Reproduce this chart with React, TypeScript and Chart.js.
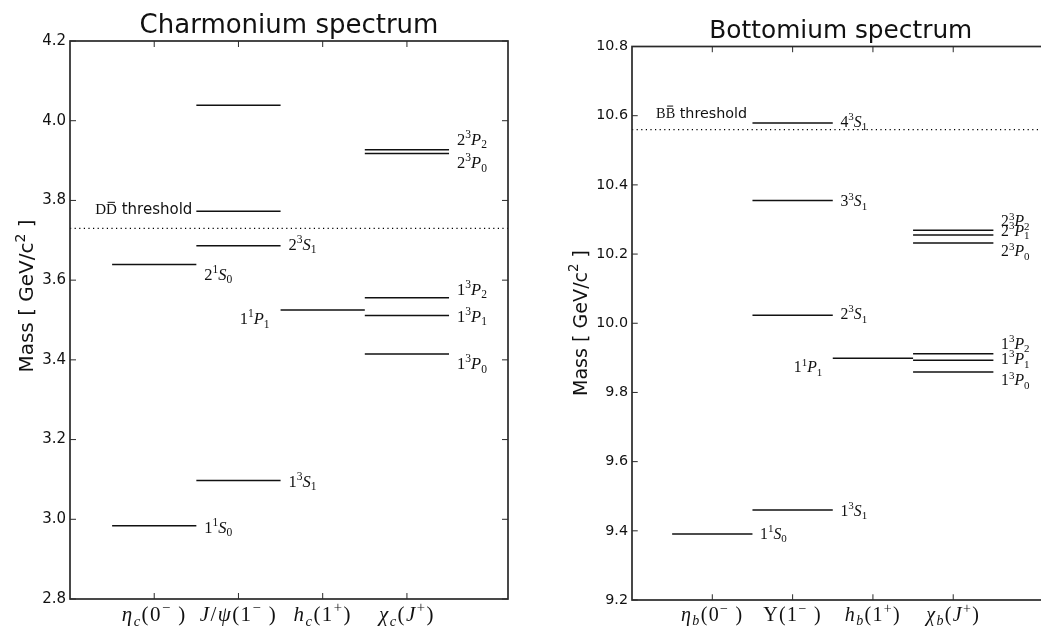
import React, { useEffect, useRef } from 'react';
import { Chart, registerables } from 'chart.js';

Chart.register(...registerables);

// ---------------- Data: Charmonium ----------------
const CHARM_TITLE = 'Charmonium spectrum';
const CHARM_CATEGORIES = ['η_c(0^− )', 'J/ψ(1^− )', 'h_c(1^+)', 'χ_c(J^+)'];
const CHARM_COLUMNS = [1, 1, 2, 2, 2, 2, 3, 4, 4, 4, 4, 4];
const CHARM_MASSES = [2.984, 3.639, 3.097, 3.686, 3.773, 4.039, 3.525, 3.415, 3.511, 3.556, 3.918, 3.927];
const CHARM_STATES = ['1^1S_0', '2^1S_0', '1^3S_1', '2^3S_1', '', '', '1^1P_1', '1^3P_0', '1^3P_1', '1^3P_2', '2^3P_0', '2^3P_2'];
const CHARM_THRESHOLD = 3.73;
const CHARM_THRESHOLD_NAME = 'D~D';
const CHARM_Y_RANGE = [2.8, 4.2];

// ---------------- Data: Bottomium ----------------
const BOTTOM_TITLE = 'Bottomium spectrum';
const BOTTOM_CATEGORIES = ['η_b(0^− )', 'Υ(1^− )', 'h_b(1^+)', 'χ_b(J^+)'];
const BOTTOM_COLUMNS = [1, 2, 2, 2, 2, 3, 4, 4, 4, 4, 4, 4];
const BOTTOM_MASSES = [9.391, 9.46, 10.023, 10.355, 10.579, 9.899, 9.859, 9.893, 9.912, 10.232, 10.255, 10.269];
const BOTTOM_STATES = ['1^1S_0', '1^3S_1', '2^3S_1', '3^3S_1', '4^3S_1', '1^1P_1', '1^3P_0', '1^3P_1', '1^3P_2', '2^3P_0', '2^3P_1', '2^3P_2'];
const BOTTOM_THRESHOLD = 10.56;
const BOTTOM_THRESHOLD_NAME = 'B~B';
const BOTTOM_Y_RANGE = [9.2, 10.8];

// ---------------- Shared axis data ----------------
const Y_STEP = 0.2;
const X_RANGE = [0, 5.2];
const Y_AXIS_LABEL = 'Mass [ GeV/c^2 ]';
const THRESHOLD_WORD = ' threshold';

// ---------------- Layout / style (not data) ----------------
const SANS = '"DejaVu Sans", sans-serif';
const SERIF = '"Liberation Serif", serif';
const INK = '#111';

const CHARM_LABEL_DY = [7, 15, 6, 4, 0, 0, 14, 15, 6, -3, 15, -5];
const CHARM_LABEL_LEFT = [false, false, false, false, false, false, true, false, false, false, false, false];
const BOTTOM_LABEL_DY = [5, 6, 4, 6, 4, 15, 14, 4, -5, 14, 1, -4];
const BOTTOM_LABEL_LEFT = [false, false, false, false, false, true, false, false, false, false, false, false];

type Seg = { t: string; italic: boolean; shift: 'base' | 'sup' | 'sub'; bar: boolean; w?: number; fs?: number };

function parseRich(s: string, mathItalic: boolean): Seg[] {
  const out: Seg[] = [];
  let i = 0;
  while (i < s.length) {
    let ch = s[i];
    let shift: Seg['shift'] = 'base';
    let bar = false;
    if (ch === '^' || ch === '_') {
      shift = ch === '^' ? 'sup' : 'sub';
      i++;
      ch = s[i];
    } else if (ch === '~') {
      bar = true;
      i++;
      ch = s[i];
    }
    const italic = mathItalic && /[A-Za-zα-ω]/.test(ch);
    out.push({ t: ch, italic, shift, bar });
    i++;
  }
  return out;
}

function drawRich(
  ctx: CanvasRenderingContext2D,
  text: string,
  x: number,
  y: number,
  align: 'left' | 'right' | 'center',
  size: number,
  family: string,
  mathItalic: boolean,
  extra = 0
) {
  const segs = parseRich(text, mathItalic);
  let w = 0;
  for (const s of segs) {
    const fs = s.shift === 'base' ? size : size * 0.7;
    ctx.font = `${s.italic ? 'italic ' : ''}${fs}px ${family}`;
    s.fs = fs;
    s.w = ctx.measureText(s.t).width + extra;
    w += s.w;
  }
  let cx = align === 'left' ? x : align === 'right' ? x - w : x - w / 2;
  ctx.textAlign = 'left';
  ctx.textBaseline = 'alphabetic';
  for (const s of segs) {
    const dy = s.shift === 'sup' ? -size * 0.42 : s.shift === 'sub' ? size * 0.22 : 0;
    ctx.font = `${s.italic ? 'italic ' : ''}${s.fs}px ${family}`;
    ctx.fillText(s.t, cx, y + dy);
    if (s.bar) {
      ctx.save();
      ctx.lineWidth = 1;
      ctx.strokeStyle = ctx.fillStyle as string;
      ctx.beginPath();
      ctx.moveTo(cx + 1.5, y - size * 0.8);
      ctx.lineTo(cx + (s.w as number) - 2, y - size * 0.8);
      ctx.stroke();
      ctx.restore();
    }
    cx += s.w as number;
  }
  return w;
}

type Cfg = {
  title: string;
  categories: string[];
  columns: number[];
  masses: number[];
  states: string[];
  threshold: number;
  thresholdName: string;
  yRange: number[];
  labelDy: number[];
  labelLeft: boolean[];
  width: number;
  height: number;
  padTop: number;
  padBottom: number;
  padRight: number;
  yAxisWidth: number;
  k: number;
  titleBaseline: number;
  yLabelX: number;
  yLabelY: number;
  catBaseline: number;
  thrDy: number;
};

function makeDecor(cfg: Cfg) {
  return {
    id: 'decor',
    afterDraw(chart: any) {
      const ctx: CanvasRenderingContext2D = chart.ctx;
      const { left, right, top, bottom } = chart.chartArea;
      const xs = chart.scales.x;
      const ys = chart.scales.y;
      const k = cfg.k;
      ctx.save();
      // frame
      ctx.strokeStyle = '#2a2a2a';
      ctx.lineWidth = 1.7;
      ctx.strokeRect(left, top, right - left, bottom - top);
      // inward ticks
      const L = 6 * k;
      ctx.lineWidth = 1;
      const seg = (x1: number, y1: number, x2: number, y2: number) => {
        ctx.beginPath();
        ctx.moveTo(x1, y1);
        ctx.lineTo(x2, y2);
        ctx.stroke();
      };
      ys.ticks.forEach((t: any) => {
        const y = ys.getPixelForValue(t.value);
        seg(left, y, left + L, y);
        seg(right, y, right - L, y);
      });
      cfg.categories.forEach((_, i) => {
        const x = xs.getPixelForValue(i + 1);
        seg(x, top, x, top + L);
        seg(x, bottom, x, bottom - L);
      });

      ctx.fillStyle = INK;
      // category labels
      cfg.categories.forEach((c, i) => {
        const x = xs.getPixelForValue(i + 1);
        drawRich(ctx, c, x, cfg.catBaseline, 'center', 21 * k, SERIF, true, 1.4 * k);
      });
      // state labels
      cfg.states.forEach((s, i) => {
        if (!s) return;
        const col = cfg.columns[i];
        const y = ys.getPixelForValue(cfg.masses[i]) + cfg.labelDy[i] * k;
        if (cfg.labelLeft[i]) {
          drawRich(ctx, s, xs.getPixelForValue(col - 0.5) - 11 * k, y, 'right', 16.5 * k, SERIF, true);
        } else {
          drawRich(ctx, s, xs.getPixelForValue(col + 0.5) + 8 * k, y, 'left', 16.5 * k, SERIF, true);
        }
      });
      // threshold label
      const tx = xs.getPixelForValue(0.3);
      const ty = ys.getPixelForValue(cfg.threshold) + cfg.thrDy;
      const w = drawRich(ctx, cfg.thresholdName, tx, ty, 'left', 15 * k, SERIF, false);
      ctx.font = `${15 * k}px ${SANS}`;
      ctx.fillText(THRESHOLD_WORD, tx + w, ty);
      // title
      ctx.font = `${26 * k}px ${SANS}`;
      ctx.textAlign = 'center';
      ctx.fillText(cfg.title, (left + right) / 2, cfg.titleBaseline);
      // y axis title
      ctx.save();
      ctx.translate(cfg.yLabelX, cfg.yLabelY);
      ctx.rotate(-Math.PI / 2);
      drawRich(ctx, Y_AXIS_LABEL, 0, 0, 'center', 20 * k, SANS, false);
      ctx.restore();
      ctx.restore();
    },
  };
}

function SpectrumChart({ cfg }: { cfg: Cfg }) {
  const ref = useRef<HTMLCanvasElement | null>(null);
  useEffect(() => {
    const canvas = ref.current;
    if (!canvas) return;
    const levelSets = cfg.masses.map((m, i) => ({
      data: [
        { x: cfg.columns[i] - 0.5, y: m },
        { x: cfg.columns[i] + 0.5, y: m },
      ],
      borderColor: '#111',
      borderWidth: 1.5,
      pointRadius: 0,
      fill: false,
      tension: 0,
    }));
    const thresholdSet = {
      data: [
        { x: X_RANGE[0], y: cfg.threshold },
        { x: X_RANGE[1], y: cfg.threshold },
      ],
      borderColor: '#000',
      borderWidth: 1.2,
      borderDash: [1.2, 3.4],
      pointRadius: 0,
      fill: false,
      tension: 0,
    };
    const chart = new Chart(canvas, {
      type: 'line',
      data: { datasets: [thresholdSet, ...levelSets] as any },
      options: {
        animation: false,
        responsive: false,
        devicePixelRatio: 1,
        events: [],
        layout: { padding: { top: cfg.padTop, bottom: cfg.padBottom, right: cfg.padRight, left: 0 } },
        plugins: { legend: { display: false }, tooltip: { enabled: false }, title: { display: false } },
        scales: {
          x: { type: 'linear', min: X_RANGE[0], max: X_RANGE[1], display: false },
          y: {
            type: 'linear',
            min: cfg.yRange[0],
            max: cfg.yRange[1],
            grid: { display: false, drawTicks: false },
            border: { display: false },
            ticks: {
              stepSize: Y_STEP,
              padding: 4,
              color: INK,
              font: { family: SANS, size: 15 * cfg.k },
              callback: (v: any) => Number(v).toFixed(1),
            },
            afterFit: (s: any) => {
              s.width = cfg.yAxisWidth;
            },
          },
        },
      } as any,
      plugins: [makeDecor(cfg)],
    });
    return () => chart.destroy();
  }, [cfg]);
  return <canvas ref={ref} width={cfg.width} height={cfg.height} style={{ display: 'block' }} />;
}

const CHARM_CFG: Cfg = {
  title: CHARM_TITLE,
  categories: CHARM_CATEGORIES,
  columns: CHARM_COLUMNS,
  masses: CHARM_MASSES,
  states: CHARM_STATES,
  threshold: CHARM_THRESHOLD,
  thresholdName: CHARM_THRESHOLD_NAME,
  yRange: CHARM_Y_RANGE,
  labelDy: CHARM_LABEL_DY,
  labelLeft: CHARM_LABEL_LEFT,
  width: 520,
  height: 632,
  padTop: 41,
  padBottom: 33,
  padRight: 12,
  yAxisWidth: 70,
  k: 1,
  titleBaseline: 33,
  yLabelX: 33,
  yLabelY: 296,
  catBaseline: 621,
  thrDy: -14,
};

const BOTTOM_CFG: Cfg = {
  title: BOTTOM_TITLE,
  categories: BOTTOM_CATEGORIES,
  columns: BOTTOM_COLUMNS,
  masses: BOTTOM_MASSES,
  states: BOTTOM_STATES,
  threshold: BOTTOM_THRESHOLD,
  thresholdName: BOTTOM_THRESHOLD_NAME,
  yRange: BOTTOM_Y_RANGE,
  labelDy: BOTTOM_LABEL_DY,
  labelLeft: BOTTOM_LABEL_LEFT,
  width: 540,
  height: 632,
  padTop: 46.5,
  padBottom: 32,
  padRight: 10.4,
  yAxisWidth: 112,
  k: 0.954,
  titleBaseline: 37.5,
  yLabelX: 66.5,
  yLabelY: 323,
  catBaseline: 621,
  thrDy: -12,
};

export default function App() {
  return (
    <div
      style={{
        position: 'fixed',
        left: 0,
        top: 0,
        width: 1041,
        height: 632,
        overflow: 'hidden',
        background: '#fff',
      }}
    >
      <div style={{ position: 'absolute', left: 0, top: 0, width: 520, height: 632 }}>
        <SpectrumChart cfg={CHARM_CFG} />
      </div>
      <div style={{ position: 'absolute', left: 520, top: 0, width: 540, height: 632 }}>
        <SpectrumChart cfg={BOTTOM_CFG} />
      </div>
    </div>
  );
}
